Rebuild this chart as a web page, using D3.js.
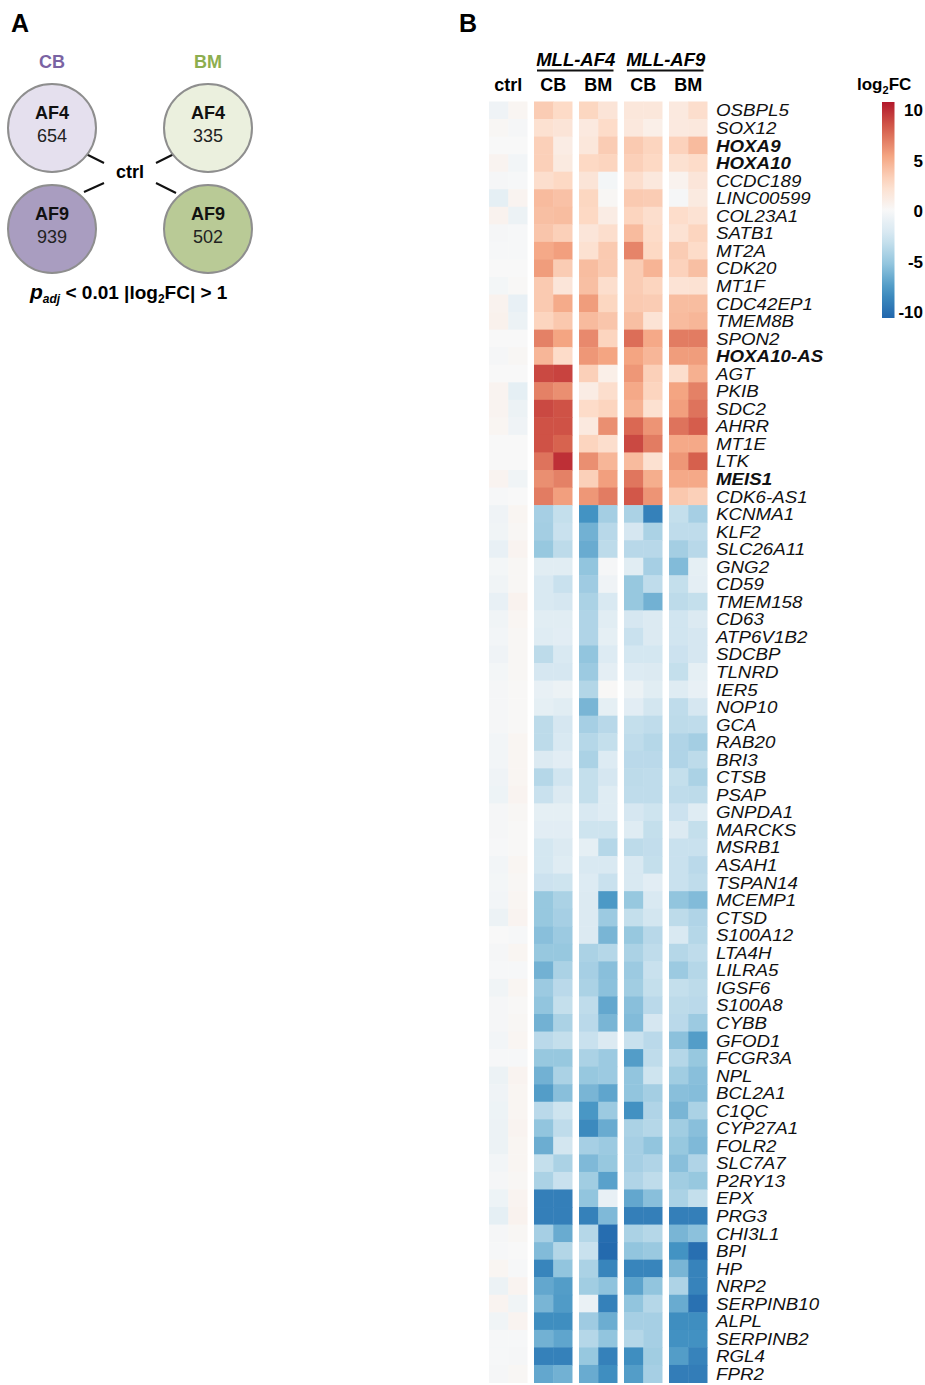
<!DOCTYPE html>
<html><head><meta charset="utf-8">
<script src="https://cdn.jsdelivr.net/npm/d3@7"></script>
<style>
body{margin:0;background:#fff}
svg{display:block;font-family:"Liberation Sans",Arial,Helvetica,sans-serif}
</style>
</head><body>
<svg id="chart" width="925" height="1385"></svg>
<script>
// ---------------- data ----------------
const genes = ["OSBPL5","SOX12","HOXA9","HOXA10","CCDC189","LINC00599","COL23A1","SATB1","MT2A","CDK20","MT1F","CDC42EP1","TMEM8B","SPON2","HOXA10-AS","AGT","PKIB","SDC2","AHRR","MT1E","LTK","MEIS1","CDK6-AS1",
"KCNMA1","KLF2","SLC26A11","GNG2","CD59","TMEM158","CD63","ATP6V1B2","SDCBP","TLNRD","IER5","NOP10","GCA","RAB20","BRI3","CTSB","PSAP","GNPDA1","MARCKS","MSRB1","ASAH1","TSPAN14","MCEMP1","CTSD","S100A12","LTA4H","LILRA5","IGSF6","S100A8","CYBB","GFOD1","FCGR3A","NPL","BCL2A1","C1QC","CYP27A1","FOLR2","SLC7A7","P2RY13","EPX","PRG3","CHI3L1","BPI","HP","NRP2","SERPINB10","ALPL","SERPINB2","RGL4","FPR2"];
const boldGenes = ["HOXA9","HOXA10","HOXA10-AS","MEIS1"];
const groups = ["ctrl","AF4_CB","AF4_BM","AF9_CB","AF9_BM"];
const groupLabels = ["ctrl","CB","BM","CB","BM"];
const fusionLabels = ["MLL-AF4","MLL-AF9"];
const legendTicks = [10,5,0,-5,-10];
const colorStops = [-10,-7.5,-5,-2.5,0,2.5,5,7.5,10];
const colorRange = ["#2166ac","#4393c3","#92c5de","#d1e5f0","#f8f8f8","#fddbc7","#f4a582","#d6604d","#b2182b"];

const ctrl_1 = [-0.6,0.2,0,0.4,-0.2,-1.2,0.5,-0.2,-0.1,0,-0.3,0.5,0.6,0,-0.2,0,0.4,0.4,0.3,0,0,0.4,-0.1,
-0.6,-0.5,-1.0,-0.3,-0.5,-1.0,-0.5,-0.4,-0.6,-0.3,-0.2,-0.2,-0.2,-0.4,-0.4,-0.6,-0.7,-0.2,-0.2,-0.1,-0.4,-0.3,-0.4,-0.8,0,-0.2,-0.1,-0.5,-0.2,-0.2,-0.4,-0.1,-0.8,-0.6,-0.7,-0.8,-0.8,-0.4,-0.2,-0.7,-1.2,-0.2,-0.1,0.3,-0.8,0.4,-0.5,-0.1,-0.1,-0.2];
const ctrl_2 = [0.3,-0.2,0,-0.4,-0.1,0.4,-0.8,-0.1,-0.1,0,0.1,-1.0,-0.8,0,0.2,0,-1.2,-0.8,-0.6,0,0,-0.5,0,
0.3,0.2,0.4,0.2,0.2,0.5,0.3,0.2,0.2,0.2,0.1,0.1,0.1,0.3,0.3,0.3,0.4,0.2,0.1,0.1,0.3,0.2,0.3,0.4,-0.1,0.3,-0.1,0.3,0.1,0.2,0.3,-0.1,0.4,0.3,0.3,0.4,0.3,0.3,0.2,0.4,0.5,0.2,0,-0.1,0.4,-0.5,0.4,-0.1,-0.2,0.2];
const af4CB_1 = [3.2,2.0,3.0,3.0,2.2,4.0,3.8,3.5,4.8,5.3,3.3,3.3,2.8,6.3,4.2,8.3,6.3,8.3,8.0,8.0,6.8,5.8,6.5,
-4.2,-4.3,-4.8,-1.5,-2.0,-2.0,-1.5,-1.6,-3.3,-2.2,-1.0,-1.2,-3.3,-3.3,-1.8,-3.6,-2.8,-1.2,-1.4,-2.3,-2.3,-2.7,-4.8,-4.8,-5.3,-4.8,-6.0,-4.6,-5.0,-6.0,-3.4,-4.8,-6.0,-7.0,-3.4,-5.0,-6.2,-3.0,-4.0,-8.6,-8.6,-4.2,-5.5,-8.3,-6.5,-5.8,-7.8,-6.0,-8.5,-6.5];
const af4CB_2 = [2.5,1.7,1.0,1.2,2.6,3.7,3.9,3.0,5.2,3.2,1.6,4.7,3.4,5.0,2.4,8.5,5.8,8.0,8.0,7.4,9.2,6.3,5.2,
-3.0,-2.8,-3.3,-1.5,-2.8,-2.2,-1.5,-1.4,-2.0,-2.2,-0.8,-1.5,-2.2,-2.0,-1.4,-2.5,-1.8,-1.2,-1.4,-1.8,-1.6,-2.6,-4.0,-4.2,-4.6,-4.8,-4.0,-3.4,-3.0,-4.0,-3.0,-4.8,-4.0,-5.3,-2.6,-3.2,-2.4,-4.0,-2.8,-8.6,-8.6,-6.3,-3.7,-5.0,-7.0,-7.1,-7.8,-6.6,-8.5,-6.0];
const af4BM_1 = [2.7,1.3,1.5,2.6,1.7,2.7,2.6,1.6,2.0,3.9,3.8,5.3,4.0,6.0,5.5,3.0,1.0,2.4,1.3,2.8,5.8,3.0,5.5,
-7.5,-6.0,-6.3,-5.0,-4.5,-4.0,-3.8,-3.8,-5.0,-4.6,-3.7,-5.8,-4.2,-3.6,-4.0,-3.0,-3.0,-2.0,-2.6,-1.2,-2.0,-1.7,-1.8,-1.8,-1.8,-4.0,-4.2,-4.0,-3.2,-3.4,-2.8,-4.0,-4.8,-5.8,-7.3,-8.0,-4.2,-5.6,-4.4,-5.0,-8.5,-3.6,-2.8,-4.0,-4.4,-0.9,-4.5,-3.6,-4.8,-6.3];
const af4BM_2 = [1.7,2.4,3.2,2.8,-0.3,0.2,1.0,2.2,3.3,3.3,2.2,2.7,3.5,2.8,5.0,0.8,2.2,2.8,5.8,2.2,4.2,5.2,6.5,
-4.3,-3.5,-3.3,-0.2,-0.6,-2.0,-1.5,-1.2,-1.7,-1.3,0.1,-1.2,-3.5,-3.0,-1.7,-2.2,-1.6,-1.6,-2.6,-3.6,-2.0,-2.8,-7.2,-4.6,-5.8,-3.6,-5.3,-5.2,-6.5,-5.8,-1.8,-4.6,-4.6,-6.6,-4.6,-6.3,-4.6,-4.8,-6.8,-1.0,-5.6,-9.6,-9.8,-8.3,-5.1,-8.5,-6.2,-5.0,-8.5,-7.8];
const af9CB_1 = [1.5,1.4,3.3,3.0,2.2,3.3,2.8,4.0,6.2,3.2,3.2,3.3,3.8,7.0,5.0,5.5,4.8,4.4,7.2,8.3,4.0,6.7,7.8,
-4.0,-2.2,-3.5,-1.5,-4.8,-4.8,-2.2,-2.8,-2.3,-1.7,-0.8,-1.4,-3.0,-3.2,-3.4,-3.3,-3.2,-2.2,-1.6,-3.3,-2.0,-2.0,-4.8,-3.0,-4.8,-4.0,-4.6,-4.4,-5.3,-5.5,-2.8,-7.0,-5.0,-5.0,-7.6,-4.0,-4.2,-4.2,-3.8,-6.5,-8.6,-4.0,-5.0,-8.3,-6.7,-5.0,-4.2,-3.6,-7.8,-7.0];
const af9CB_2 = [1.5,0.8,2.8,2.6,1.4,3.2,2.2,2.4,2.6,4.3,2.8,3.2,1.8,4.8,4.2,3.0,2.8,2.0,5.6,6.5,2.0,4.6,5.6,
-8.5,-4.0,-3.5,-4.2,-3.2,-6.0,-1.8,-1.8,-2.3,-1.8,-1.5,-2.4,-3.2,-3.6,-3.4,-3.2,-3.2,-2.6,-3.0,-3.1,-3.0,-1.4,-2.0,-2.4,-3.5,-3.2,-2.8,-3.0,-3.4,-2.2,-3.4,-3.2,-2.6,-4.3,-3.8,-3.6,-5.0,-3.8,-3.2,-5.3,-8.6,-3.6,-4.7,-8.3,-5.0,-3.6,-4.2,-4.2,-4.4,-4.2];
const af9BM_1 = [1.3,1.3,2.9,2.0,0.5,-0.2,2.3,1.9,3.2,2.9,1.8,3.9,4.0,6.5,5.3,2.2,5.0,5.2,6.8,4.8,5.5,4.8,3.4,
-3.0,-3.2,-4.3,-5.5,-3.0,-3.3,-2.5,-2.5,-2.7,-3.0,-1.6,-3.2,-3.3,-3.8,-3.8,-3.0,-3.2,-2.7,-1.8,-2.8,-2.8,-2.8,-5.0,-3.3,-2.0,-3.6,-4.6,-3.0,-3.3,-3.4,-5.2,-3.6,-4.4,-5.3,-5.8,-4.4,-4.8,-5.3,-4.4,-4.0,-8.6,-5.8,-7.5,-5.8,-3.9,-6.3,-7.8,-7.6,-7.0,-8.7];
const af9BM_2 = [2.2,1.4,4.0,2.4,1.6,1.2,1.9,2.8,2.4,3.8,1.9,3.9,4.2,6.5,5.3,4.5,6.3,6.8,7.6,4.8,7.5,4.8,3.0,
-4.2,-3.2,-3.5,-1.2,-1.3,-3.0,-1.8,-2.2,-2.2,-1.2,-1.0,-2.2,-3.2,-4.3,-3.3,-4.0,-3.3,-1.6,-3.0,-2.8,-3.4,-3.2,-5.5,-3.8,-3.6,-3.2,-3.6,-3.3,-3.4,-4.6,-7.0,-4.8,-5.3,-5.4,-4.0,-5.3,-5.6,-3.8,-4.8,-3.0,-8.6,-5.2,-9.5,-8.4,-8.4,-9.4,-7.8,-7.6,-8.4,-8.7];

const columns = {ctrl:[ctrl_1,ctrl_2], AF4_CB:[af4CB_1,af4CB_2], AF4_BM:[af4BM_1,af4BM_2], AF9_CB:[af9CB_1,af9CB_2], AF9_BM:[af9BM_1,af9BM_2]};

// panel A
const vennNames = ["AF4","AF4","AF9","AF9"];
const vennSources = ["CB","BM","CB","BM"];
const vennCounts = [654,335,939,502];
const sourceNames = ["CB","BM"];
const fusionNames = ["AF4","AF9"];

// ---------------- drawing ----------------
const svg = d3.select("#chart");
svg.append("rect").attr("width",925).attr("height",1385).attr("fill","#fff");

svg.append("text").attr("x",11).attr("y",32).attr("font-size",25).attr("font-weight","bold").text("A");
svg.append("text").attr("x",459).attr("y",32).attr("font-size",25).attr("font-weight","bold").text("B");

// ---- Panel A ----
const vx = d3.scalePoint().domain(sourceNames).range([52,208]);
const vy = d3.scalePoint().domain(fusionNames).range([128,229]);
const fills = {"CB|AF4":"#e5e0ee","CB|AF9":"#a99dc0","BM|AF4":"#ebf0de","BM|AF9":"#b9ca96"};
const srcColor = {CB:"#7a63a3",BM:"#8dae4f"};
const A = svg.append("g");
A.selectAll("text.src").data(sourceNames).join("text").attr("class","src")
  .attr("x",d=>vx(d)).attr("y",68).attr("text-anchor","middle")
  .attr("font-size",18).attr("font-weight","bold").attr("fill",d=>srcColor[d]).text(d=>d);
const cx = 130, cyc = 172;
const linkSegs = [[84,153,104,163],[84,192,104,183],[156,163,176,153],[156,183,176,193]];
A.selectAll("line.lk").data(linkSegs).join("line").attr("class","lk")
  .attr("x1",d=>d[0]).attr("y1",d=>d[1]).attr("x2",d=>d[2]).attr("y2",d=>d[3])
  .attr("stroke","#111").attr("stroke-width",2);
const vd = vennNames.map((n,i)=>({name:n,src:vennSources[i],count:vennCounts[i]}));
A.selectAll("circle.v").data(vd).join("circle").attr("class","v")
  .attr("cx",d=>vx(d.src)).attr("cy",d=>vy(d.name)).attr("r",44)
  .attr("fill",d=>fills[d.src+"|"+d.name]).attr("stroke","#8e8e8e").attr("stroke-width",2);
A.selectAll("text.vn").data(vd).join("text").attr("class","vn")
  .attr("x",d=>vx(d.src)).attr("y",d=>vy(d.name)-9).attr("text-anchor","middle")
  .attr("font-size",18).attr("font-weight","bold").attr("fill","#111").text(d=>d.name);
A.selectAll("text.vc").data(vd).join("text").attr("class","vc")
  .attr("x",d=>vx(d.src)).attr("y",d=>vy(d.name)+14).attr("text-anchor","middle")
  .attr("font-size",18).attr("fill","#222").text(d=>d.count);
A.append("text").attr("x",cx).attr("y",cyc+6).attr("text-anchor","middle")
  .attr("font-size",18).attr("font-weight","bold").text("ctrl");
const ft = A.append("text").attr("x",30).attr("y",299).attr("font-size",19).attr("font-weight","bold");
ft.append("tspan").attr("font-style","italic").attr("font-size",21).text("p");
ft.append("tspan").attr("font-style","italic").attr("font-size",12).attr("dy",4).text("adj");
ft.append("tspan").attr("dy",-4).text(" < 0.01 |log");
ft.append("tspan").attr("font-size",12).attr("dy",4).text("2");
ft.append("tspan").attr("dy",-4).text("FC| > 1");

// ---- Panel B heatmap ----
const x = d3.scaleBand().domain(groups).range([489,707.5]).paddingInner(0.1444).paddingOuter(0);
const xs = d3.scaleBand().domain([0,1]).range([0,x.bandwidth()]);
const y = d3.scaleBand().domain(genes).range([101.5,1382.5]);
const color = d3.scaleLinear().domain(colorStops).range(colorRange).interpolate(d3.interpolateRgb).clamp(true);

const cells = [];
groups.forEach(g => columns[g].forEach((arr,ci) => arr.forEach((v,ri) => cells.push({g,ci,gene:genes[ri],v}))));
svg.append("g").selectAll("rect").data(cells).join("rect")
  .attr("x",d=>x(d.g)+xs(d.ci)).attr("y",d=>y(d.gene))
  .attr("width",d=>xs.bandwidth()+(d.ci===0?0.5:0)).attr("height",y.bandwidth()+0.5)
  .attr("fill",d=>color(d.v));

svg.append("g").selectAll("text").data(groups).join("text")
  .attr("x",d=>x(d)+x.bandwidth()/2).attr("y",91).attr("text-anchor","middle")
  .attr("font-size",18).attr("font-weight","bold").text((d,i)=>groupLabels[i]);
const fusionSpans = [["AF4_CB","AF4_BM"],["AF9_CB","AF9_BM"]];
const fh = svg.append("g");
fusionSpans.forEach((s,i)=>{
  const x0 = x(s[0]), x1 = x(s[1]) + x.bandwidth();
  fh.append("text").attr("x",(x0+x1)/2).attr("y",66).attr("text-anchor","middle")
    .attr("font-size",18.5).attr("font-weight","bold").attr("font-style","italic").text(fusionLabels[i]);
  fh.append("line").attr("x1",x0+3).attr("x2",x1-4).attr("y1",70.5).attr("y2",70.5)
    .attr("stroke","#111").attr("stroke-width",2);
});

// gene labels (tightly packed, as in the original)
svg.append("g").selectAll("text").data(genes).join("text")
  .attr("transform",d=>`translate(716,${y(d)+y.bandwidth()/2+6.2}) scale(1.32,1.12)`)
  .attr("font-size",14.2).attr("font-style","italic")
  .attr("font-weight",d=>boldGenes.includes(d)?"bold":"normal")
  .attr("fill","#111").text(d=>d);

// ---- legend ----
const lg = svg.append("g");
const defs = svg.append("defs");
const grad = defs.append("linearGradient").attr("id","lgrad").attr("x1",0).attr("x2",0).attr("y1",0).attr("y2",1);
d3.range(0,21).forEach(i=>{
  const v = 10 - i;
  grad.append("stop").attr("offset",(i/20*100)+"%").attr("stop-color",color(v));
});
lg.append("rect").attr("x",882).attr("y",102).attr("width",12.5).attr("height",216).attr("fill","url(#lgrad)");
const ly = d3.scaleLinear().domain([10,-10]).range([110,312]);
lg.selectAll("text.t").data(legendTicks).join("text").attr("class","t")
  .attr("x",923).attr("y",d=>ly(d)).attr("dy","0.36em").attr("text-anchor","end")
  .attr("font-size",17).attr("font-weight","bold").text(d=>d);
const lt = lg.append("text").attr("x",857).attr("y",90).attr("font-size",17).attr("font-weight","bold");
lt.append("tspan").text("log");
lt.append("tspan").attr("font-size",11).attr("dy",4).text("2");
lt.append("tspan").attr("dy",-4).text("FC");
</script>
</body></html>
